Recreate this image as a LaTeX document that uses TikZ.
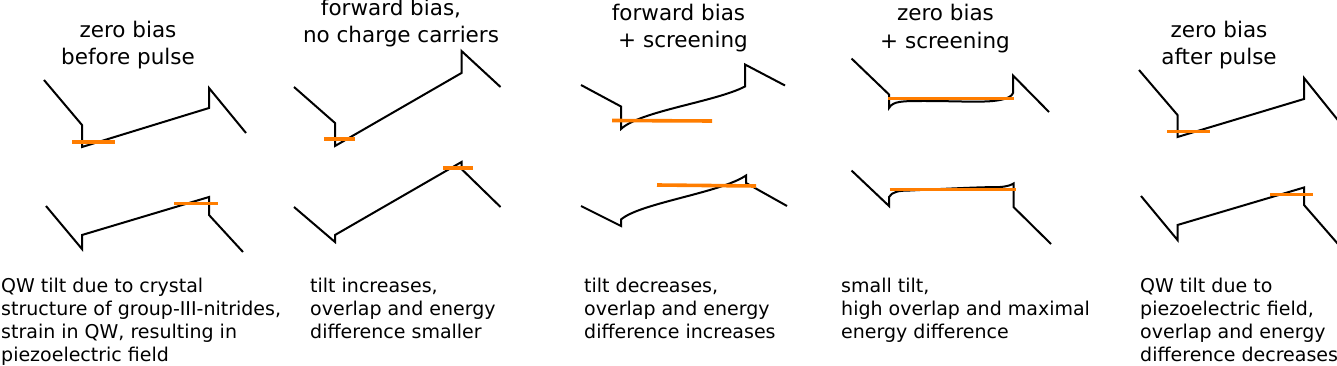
\documentclass[tikz,border=0pt]{standalone}
\usepackage{fontspec}
\setmainfont{DejaVu Sans}
\definecolor{qwor}{RGB}{255,125,0}
\begin{document}
\begin{tikzpicture}[x=1pt,y=-1pt,
  band/.style={draw=black,line width=2pt},
  level/.style={draw=qwor,line width=3.6pt},
  ttl/.style={anchor=base,inner sep=0pt,font=\fontsize{21.5}{27}\selectfont},
  txt/.style={anchor=base west,inner sep=0pt,font=\fontsize{19}{23.3}\selectfont}]
\useasboundingbox (0,0) rectangle (1337,366);
% titles
\node[ttl] (t1a) at (128,38) {zero bias};
\node[ttl] (t1b) at (128,65) {before pulse};
\node[ttl] (t2a) at (391,16) {forward bias,};
\node[ttl] (t2b) at (401,43) {no charge carriers};
\node[ttl] (t3a) at (678.5,21) {forward bias};
\node[ttl] (t3b) at (683,47.5) {+ screening};
\node[ttl] (t4a) at (945.5,21) {zero bias};
\node[ttl] (t4b) at (945,48.5) {+ screening};
\node[ttl] (t5a) at (1219,38) {zero bias};
\node[ttl] (t5b) at (1219,65) {after pulse};
% panel 1
\draw[band] (44,80) -- (82,125) -- (82,147) -- (209,108) -- (209,88) -- (246,133);
\draw[level] (72,142) -- (115,142);
\draw[band] (46,206) -- (82,249) -- (82,235) -- (209,197) -- (209,215) -- (243,252);
\draw[level] (174,203.5) -- (218,203.5);
% panel 2
\draw[band] (294,87) -- (335,123) -- (335,146) -- (461.5,73) -- (461.5,51) -- (500.5,87);
\draw[level] (324,139) -- (355,139);
\draw[band] (294,207) -- (335,242) -- (335,235) -- (461.5,162) -- (461.5,169) -- (500.5,207);
\draw[level] (443,168) -- (473,168);
% panel 3
\draw[band] (581,85) -- (621,106.5) -- (621,129) .. controls (640,111) and (715,102) .. (745,86.5) -- (745,64.5) -- (785,85.5);
\draw[level] (612,120.5) -- (712,121);
\draw[band] (581,206) -- (621,226) -- (621,219.5) .. controls (640,203) and (720,193) .. (746,175.5) -- (746,183) -- (787,206);
\draw[level] (657,185) -- (756,186);
% panel 4
\draw[band] (851.5,58.5) -- (889,94.5) -- (889,108) .. controls (893,101) and (902,101) .. (925,101) .. controls (960,101) and (985,103) .. (1000,100) .. controls (1008,98.5) and (1012,96) .. (1013,93) -- (1013,75.5) -- (1049,112);
\draw[level] (888,98.5) -- (1014,98.5);
\draw[band] (851.5,170.5) -- (889,206) -- (889,197) .. controls (892,192) and (898,190.5) .. (910,190.5) .. controls (940,189) and (980,187) .. (1000,187) .. controls (1008,186.5) and (1012,184.5) .. (1013.5,183.5) -- (1013.5,207) -- (1051,244);
\draw[level] (889.5,189.5) -- (1015.5,189.5);
% panel 5
\draw[band] (1139,70) -- (1177.5,115) -- (1177.5,137) -- (1304,99) -- (1304,78) -- (1341,124);
\draw[level] (1167,131.5) -- (1210,131.5);
\draw[band] (1141,196) -- (1177.5,240) -- (1177.5,225) -- (1304,187.5) -- (1304,205) -- (1341,247.5);
\draw[level] (1270,194.5) -- (1313,194.5);
% captions
\node[txt] (c1a) at (1,292) {QW tilt due to crystal};
\node[txt] (c1b) at (1,315) {structure of group-III-nitrides,};
\node[txt] (c1c) at (1,338.5) {strain in QW, resulting in};
\node[txt] (c1d) at (1,361.5) {piezoelectric field};
\node[txt] (c2a) at (310,292) {tilt increases,};
\node[txt] (c2b) at (310,315) {overlap and energy};
\node[txt] (c2c) at (310,338.5) {difference smaller};
\node[txt] (c3a) at (584,292) {tilt decreases,};
\node[txt] (c3b) at (584,315) {overlap and energy};
\node[txt] (c3c) at (584,338.5) {difference increases};
\node[txt] (c4a) at (841,292) {small tilt,};
\node[txt] (c4b) at (841,315) {high overlap and maximal};
\node[txt] (c4c) at (841,338.5) {energy difference};
\node[txt] (c5a) at (1140,292) {QW tilt due to};
\node[txt] (c5b) at (1140,315) {piezoelectric field,};
\node[txt] (c5c) at (1140,338.5) {overlap and energy};
\node[txt] (c5d) at (1140,361.5) {difference decreases};
\end{tikzpicture}
\end{document}
